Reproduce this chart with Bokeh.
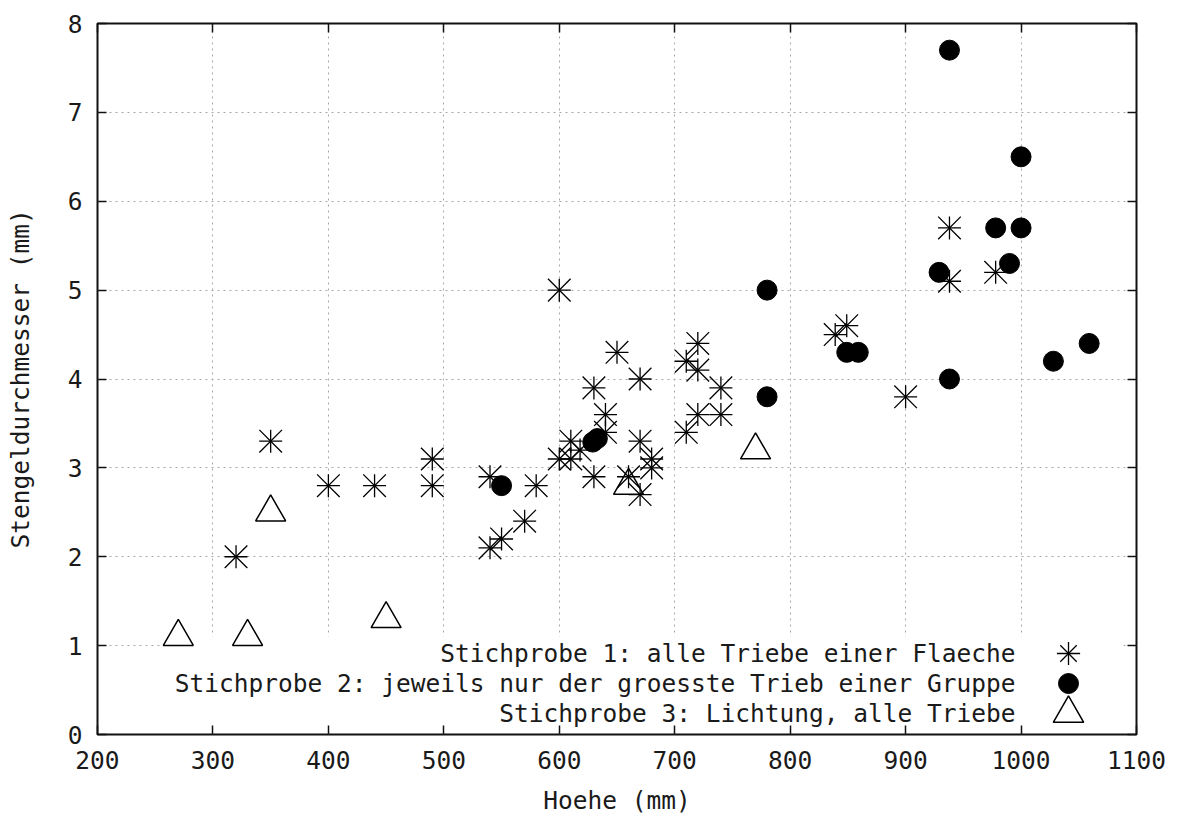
from bokeh.plotting import figure
from bokeh.models import (Range1d, LinearAxis, FixedTicker, Legend, LegendItem, Label,
                          BoxAnnotation, CustomJSTickFormatter)
from bokeh.core.properties import value
from bokeh.embed import file_html
from bokeh.resources import INLINE

# ---- data ----
# Stichprobe 1: alle Triebe einer Flaeche (stars)
s1_x = [320, 350, 400, 440, 490, 490, 540, 540, 550, 570, 580, 600, 600, 610, 610, 618,
        630, 630, 640, 640, 650, 660, 670, 670, 670, 680, 680, 710, 710, 720, 720, 720,
        740, 740, 839, 849, 900, 938, 938, 978]
s1_y = [2.0, 3.3, 2.8, 2.8, 3.1, 2.8, 2.9, 2.1, 2.2, 2.4, 2.8, 5.0, 3.1, 3.3, 3.1, 3.2,
        3.9, 2.9, 3.6, 3.4, 4.3, 2.9, 4.0, 3.3, 2.7, 3.1, 3.0, 4.2, 3.4, 4.4, 4.1, 3.6,
        3.9, 3.6, 4.5, 4.6, 3.8, 5.7, 5.1, 5.2]

# Stichprobe 2: jeweils nur der groesste Trieb einer Gruppe (filled circles)
s2_x = [550, 629, 633, 780, 780, 849, 859, 929, 938, 938, 978, 990, 1000, 1000, 1028, 1059]
s2_y = [2.8, 3.29, 3.33, 5.0, 3.8, 4.3, 4.3, 5.2, 7.7, 4.0, 5.7, 5.3, 5.7, 6.5, 4.2, 4.4]

# Stichprobe 3: Lichtung, alle Triebe (open triangles)
s3_x = [270, 330, 350, 450, 660, 770]
s3_y = [1.1, 1.1, 2.5, 1.3, 2.8, 3.2]

x_ticks = [200, 300, 400, 500, 600, 700, 800, 900, 1000, 1100]
y_ticks = [0, 1, 2, 3, 4, 5, 6, 7, 8]

legend_labels = [
    "Stichprobe 1: alle Triebe einer Flaeche",
    "Stichprobe 2: jeweils nur der groesste Trieb einer Gruppe",
    "Stichprobe 3: Lichtung, alle Triebe",
]

x_label = "Hoehe (mm)"
y_label = "Stengeldurchmesser (mm)"

FONT = "DejaVu Sans Mono"
FS = "24.5px"
TXT = "#1a1a1a"

p = figure(width=1179, height=822, x_range=Range1d(200, 1100), y_range=Range1d(0, 8),
           output_backend="svg", toolbar_location=None,
           min_border_left=97, min_border_right=43, min_border_top=23, min_border_bottom=88,
           background_fill_color="white", border_fill_color="white")

p.outline_line_color = "#111111"
p.outline_line_width = 2

# main axes
for ax, ticks in ((p.xaxis[0], x_ticks), (p.yaxis[0], y_ticks)):
    ax.ticker = FixedTicker(ticks=ticks)
    ax.major_tick_in = 9
    ax.major_tick_out = 0
    ax.major_tick_line_color = "#111111"
    ax.major_tick_line_width = 1.5
    ax.minor_tick_line_color = None
    ax.axis_line_color = None
    ax.major_label_text_font = FONT
    ax.major_label_text_font_size = FS
    ax.major_label_text_color = TXT
    ax.axis_label_text_font = FONT
    ax.axis_label_text_font_size = FS
    ax.axis_label_text_font_style = "normal"
    ax.axis_label_text_color = TXT

p.xaxis.axis_label = x_label
p.yaxis.axis_label = y_label
p.xaxis.major_label_standoff = 16
p.xaxis.axis_label_standoff = 14
p.yaxis.major_label_standoff = 15
p.yaxis.axis_label_standoff = 30

# mirrored ticks on top and right (no labels)
for loc, ticks in (("above", x_ticks), ("right", y_ticks)):
    mirror = LinearAxis(ticker=FixedTicker(ticks=ticks),
                        formatter=CustomJSTickFormatter(code="return ''"),
                        major_tick_in=9, major_tick_out=0,
                        major_tick_line_color="#111111", major_tick_line_width=1.5,
                        minor_tick_line_color=None, axis_line_color=None,
                        major_label_standoff=0)
    p.add_layout(mirror, loc)

# grid
p.grid.grid_line_color = "#a8a8a8"
p.grid.grid_line_dash = "2 4"
p.grid.grid_line_width = 1

# opaque key area (hides grid behind the key, like the original)
p.add_layout(BoxAnnotation(left=69, right=1024, bottom=4, top=98,
                           left_units="screen", right_units="screen",
                           bottom_units="screen", top_units="screen",
                           fill_color="white", fill_alpha=1.0, line_color=None,
                           level="underlay"))

# data
r1a = p.scatter(s1_x, s1_y, marker="cross", size=23, line_color="black", line_width=1.3)
r1b = p.scatter(s1_x, s1_y, marker="x", size=32, line_color="black", line_width=1.3)
r2 = p.scatter(s2_x, s2_y, marker="circle", size=20, fill_color="black", line_color="black")
r3 = p.scatter(s3_x, s3_y, marker="triangle", size=30, fill_color=None,
               line_color="black", line_width=1.5)

# key: samples (via legends with empty labels) to the right of right-aligned texts
def sample_legend(renderers, box, cx, cy):
    return Legend(items=[LegendItem(label=value(""), renderers=renderers)],
                  location=(cx - 97 - box // 2, (734 - cy) - box // 2),
                  glyph_width=box, glyph_height=box, label_height=0, label_width=0,
                  label_standoff=0, label_text_font_size="1px",
                  padding=0, margin=0, spacing=0,
                  background_fill_alpha=0, border_line_color=None)

p.add_layout(sample_legend([r1a, r1b], 58, 1068, 653), "center")
p.add_layout(sample_legend([r2], 50, 1068, 683), "center")
p.add_layout(sample_legend([r3], 76, 1068, 713), "center")

for txt, yy in zip(legend_labels, [81, 51, 21]):
    p.add_layout(Label(x=918, y=yy, x_units="screen", y_units="screen", text=txt,
                       text_align="right", text_baseline="middle",
                       text_font=FONT, text_font_size=FS, text_color=TXT))

open("out.html", "w").write(file_html(p, INLINE))
